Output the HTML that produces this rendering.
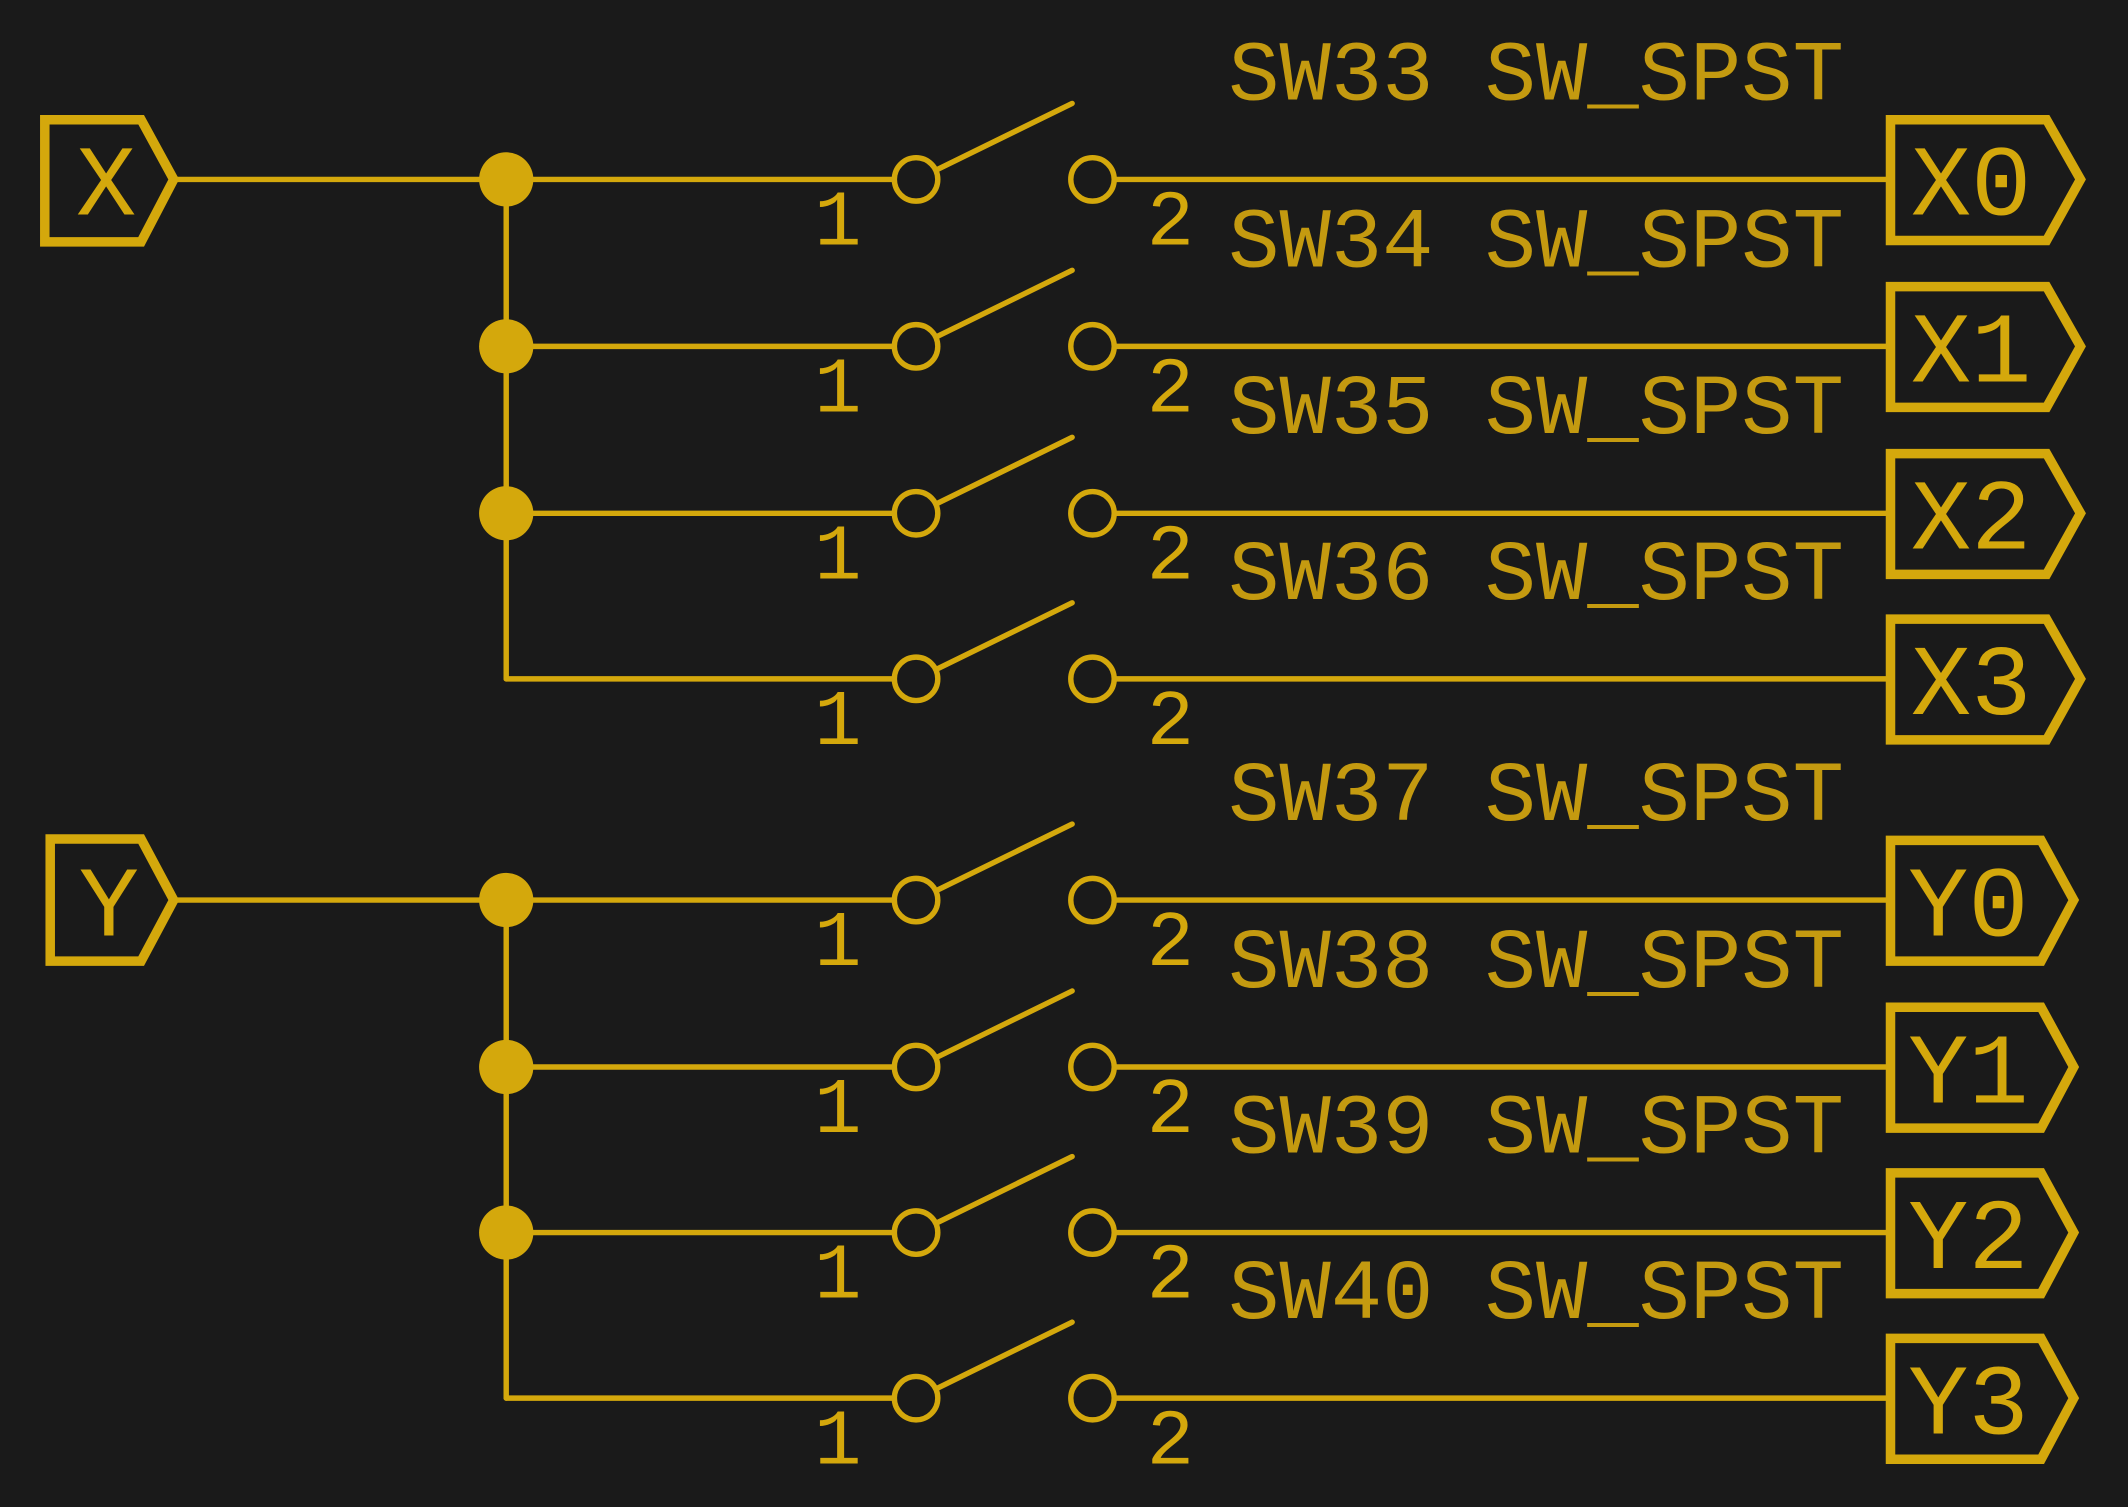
<!DOCTYPE html>
<html><head><meta charset="utf-8"><style>
html,body{margin:0;padding:0;background:#1a1a1a;}
svg{display:block;}
text{font-family:"Liberation Mono","DejaVu Sans Mono",monospace;}
</style></head><body>
<svg width="2128" height="1507" viewBox="0 0 1568 1110" xmlns="http://www.w3.org/2000/svg">
<rect width="1568" height="1110" fill="#1a1a1a"/>
<g stroke="#d4a80c" fill="none" stroke-linecap="round">
<!-- X input -->
<polygon points="33,88 104,88 128,132 104,178 33,178" stroke-width="7"/>
<line x1="128" y1="132" x2="373" y2="132" stroke-width="4"/>
<line x1="373" y1="132" x2="373" y2="500" stroke-width="4"/>
<!-- Y input -->
<polygon points="37,618 104,618 128,663 104,708 37,708" stroke-width="7"/>
<line x1="128" y1="663" x2="373" y2="663" stroke-width="4"/>
<line x1="373" y1="663" x2="373" y2="1030" stroke-width="4"/>
</g>
<g fill="#d4a80c">
<circle cx="373" cy="132" r="20"/><circle cx="373" cy="255" r="20"/><circle cx="373" cy="378" r="20"/>
<circle cx="373" cy="663" r="20"/><circle cx="373" cy="786" r="20"/><circle cx="373" cy="908" r="20"/>
</g>
<g id="rows" stroke="#d4a80c" fill="none" stroke-width="4" stroke-linecap="round">
<!-- rows generated manually -->
<g><line x1="373" y1="132" x2="659" y2="132"/><circle cx="675" cy="132" r="16"/><line x1="690" y1="125" x2="790" y2="76"/><circle cx="805" cy="132" r="16"/><line x1="821" y1="132" x2="1392" y2="132"/></g>
<g><line x1="373" y1="255" x2="659" y2="255"/><circle cx="675" cy="255" r="16"/><line x1="690" y1="248" x2="790" y2="199"/><circle cx="805" cy="255" r="16"/><line x1="821" y1="255" x2="1392" y2="255"/></g>
<g><line x1="373" y1="378" x2="659" y2="378"/><circle cx="675" cy="378" r="16"/><line x1="690" y1="371" x2="790" y2="322"/><circle cx="805" cy="378" r="16"/><line x1="821" y1="378" x2="1392" y2="378"/></g>
<g><line x1="373" y1="500" x2="659" y2="500"/><circle cx="675" cy="500" r="16"/><line x1="690" y1="493" x2="790" y2="444"/><circle cx="805" cy="500" r="16"/><line x1="821" y1="500" x2="1392" y2="500"/></g>
<g><line x1="373" y1="663" x2="659" y2="663"/><circle cx="675" cy="663" r="16"/><line x1="690" y1="656" x2="790" y2="607"/><circle cx="805" cy="663" r="16"/><line x1="821" y1="663" x2="1392" y2="663"/></g>
<g><line x1="373" y1="786" x2="659" y2="786"/><circle cx="675" cy="786" r="16"/><line x1="690" y1="779" x2="790" y2="730"/><circle cx="805" cy="786" r="16"/><line x1="821" y1="786" x2="1392" y2="786"/></g>
<g><line x1="373" y1="908" x2="659" y2="908"/><circle cx="675" cy="908" r="16"/><line x1="690" y1="901" x2="790" y2="852"/><circle cx="805" cy="908" r="16"/><line x1="821" y1="908" x2="1392" y2="908"/></g>
<g><line x1="373" y1="1030" x2="659" y2="1030"/><circle cx="675" cy="1030" r="16"/><line x1="690" y1="1023" x2="790" y2="974"/><circle cx="805" cy="1030" r="16"/><line x1="821" y1="1030" x2="1392" y2="1030"/></g>
</g>
<g stroke="#d4a80c" fill="none" stroke-width="7" stroke-linejoin="miter">
<polygon points="1393,88 1508,88 1533,132 1508,177 1393,177"/>
<polygon points="1393,211 1508,211 1533,255 1508,300 1393,300"/>
<polygon points="1393,334 1508,334 1533,378 1508,423 1393,423"/>
<polygon points="1393,456 1508,456 1533,500 1508,545 1393,545"/>
<polygon points="1393,619 1504,619 1528,663 1504,708 1393,708"/>
<polygon points="1393,742 1504,742 1528,786 1504,831 1393,831"/>
<polygon points="1393,864 1504,864 1528,908 1504,953 1393,953"/>
<polygon points="1393,986 1504,986 1528,1030 1504,1075 1393,1075"/>
</g>
<g fill="#d4a80c" font-size="74">
<text x="56" y="158">X</text>
<text x="58" y="689">Y</text>
<text x="1408" y="158">X0</text>
<text x="1408" y="281">X1</text>
<text x="1408" y="404">X2</text>
<text x="1408" y="526">X3</text>
<text x="1406" y="689">Y0</text>
<text x="1406" y="812">Y1</text>
<text x="1406" y="934">Y2</text>
<text x="1406" y="1056">Y3</text>
</g>
<g fill="#d4a80c" font-size="58">
<text x="600" y="180">1</text><text x="845" y="180">2</text>
<text x="600" y="303">1</text><text x="845" y="303">2</text>
<text x="600" y="426">1</text><text x="845" y="426">2</text>
<text x="600" y="548">1</text><text x="845" y="548">2</text>
<text x="600" y="711">1</text><text x="845" y="711">2</text>
<text x="600" y="834">1</text><text x="845" y="834">2</text>
<text x="600" y="956">1</text><text x="845" y="956">2</text>
<text x="600" y="1078">1</text><text x="845" y="1078">2</text>
</g>
<g fill="#c49a10" font-size="63">
<text x="905" y="73">SW33 SW_SPST</text>
<text x="905" y="196">SW34 SW_SPST</text>
<text x="905" y="319">SW35 SW_SPST</text>
<text x="905" y="441">SW36 SW_SPST</text>
<text x="905" y="604">SW37 SW_SPST</text>
<text x="905" y="727">SW38 SW_SPST</text>
<text x="905" y="849">SW39 SW_SPST</text>
<text x="905" y="971">SW40 SW_SPST</text>
</g>
</svg>
</body></html>
